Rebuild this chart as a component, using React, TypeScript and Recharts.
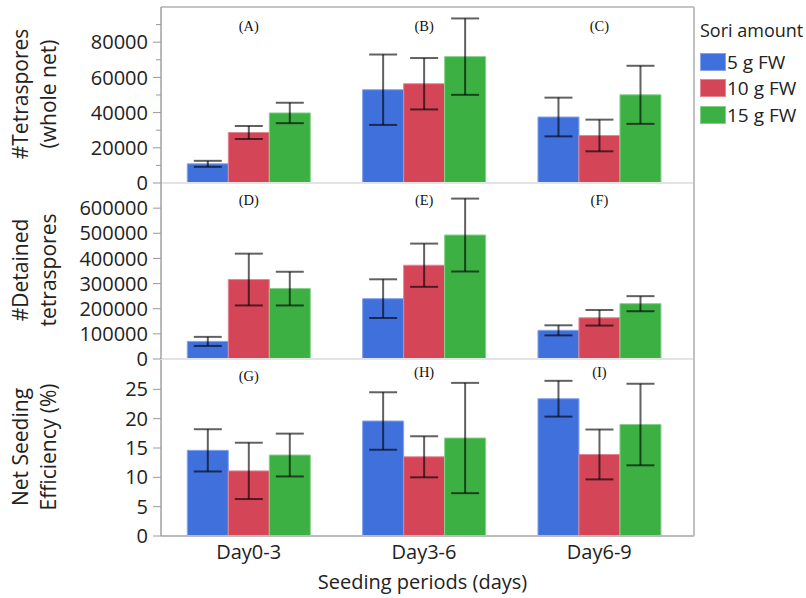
import React from 'react';
import { BarChart, Bar, XAxis, YAxis, ErrorBar, ReferenceLine, Legend, LabelList } from 'recharts';

const periods = ['Day0-3', 'Day3-6', 'Day6-9'];
const seriesNames = ['5 g FW', '10 g FW', '15 g FW'];
const seriesColors = ['#4070dc', '#d44557', '#3cb043'];
const seriesEdges = ['#86a2ea', '#e38692', '#86cf8b'];

// Panel 1: #Tetraspores (whole net)
const tetraMean5 = [10900, 53000, 37500];
const tetraMean10 = [28700, 56400, 27000];
const tetraMean15 = [39800, 71800, 50100];
const tetraErr5 = [1700, 20000, 11000];
const tetraErr10 = [3700, 14600, 9000];
const tetraErr15 = [5800, 21700, 16500];
const tetraTicks = [0, 10000, 20000, 30000, 40000, 50000, 60000, 70000, 80000, 90000];
const tetraLetters = ['(A)', '(B)', '(C)'];

// Panel 2: #Detained tetraspores
const detMean5 = [70000, 240000, 114000];
const detMean10 = [316000, 373000, 164000];
const detMean15 = [280000, 493000, 220000];
const detErr5 = [18000, 77000, 20000];
const detErr10 = [103000, 86000, 31000];
const detErr15 = [67000, 145000, 30000];
const detTicks = [0, 100000, 200000, 300000, 400000, 500000, 600000];
const detLetters = ['(D)', '(E)', '(F)'];

// Panel 3: Net Seeding Efficiency (%)
const effMean5 = [14.6, 19.6, 23.4];
const effMean10 = [11.1, 13.5, 13.9];
const effMean15 = [13.8, 16.7, 19.0];
const effErr5 = [3.6, 4.9, 3.05];
const effErr10 = [4.8, 3.5, 4.25];
const effErr15 = [3.65, 9.4, 6.95];
const effTicks = [0, 5, 10, 15, 20, 25];
const effLetters = ['(G)', '(H)', '(I)'];

const FONT = '"Open Sans", "Noto Sans", sans-serif';
const TEXT = '#222';
const W = 806;
const PLOT_LEFT = 161;
const PLOT_RIGHT = 694;

function buildRows(means: number[][], errs: number[][], letters: string[]) {
  return periods.map((p, i) => ({
    period: p,
    letter: letters[i],
    m0: means[0][i],
    m1: means[1][i],
    m2: means[2][i],
    e0: errs[0][i],
    e1: errs[1][i],
    e2: errs[2][i],
  }));
}

const tetraRows = buildRows([tetraMean5, tetraMean10, tetraMean15], [tetraErr5, tetraErr10, tetraErr15], tetraLetters);
const detRows = buildRows([detMean5, detMean10, detMean15], [detErr5, detErr10, detErr15], detLetters);
const effRows = buildRows([effMean5, effMean10, effMean15], [effErr5, effErr10, effErr15], effLetters);

const yTitle = (lines: string[]) => (props: any) => {
  const vb = props.viewBox || {};
  const cy = vb.y + vb.height / 2 - 1;
  const xs = [27.5, 56];
  return (
    <g>
      {lines.map((t, i) => (
        <text
          key={i}
          x={xs[i]}
          y={cy}
          transform={`rotate(-90 ${xs[i]} ${cy})`}
          textAnchor="middle"
          fontSize={21}
          fontFamily={FONT}
          fill={TEXT}
        >
          {t}
        </text>
      ))}
    </g>
  );
};

const xTitle = (props: any) => {
  const vb = props.viewBox || {};
  const cx = vb.x + vb.width / 2 - 5;
  return (
    <text x={cx} y={vb.y + 53} textAnchor="middle" fontSize={20} fontFamily={FONT} fill={TEXT}>
      Seeding periods (days)
    </text>
  );
};

const MinorTick = (props: any) => {
  const { x, y, payload } = props;
  const v = payload.value;
  const major = v % 20000 === 0;
  return (
    <g>
      <line x1={major ? x + 5 : x + 8} x2={x + 13} y1={y} y2={y} stroke="#999" strokeWidth={1} />
      {major && (
        <text x={x} y={y} dy="0.355em" textAnchor="end" fontSize={20} fontFamily={FONT} fill={TEXT}>
          {v}
        </text>
      )}
    </g>
  );
};

const letterRenderer = (panelTop: number, dys: number[]) => (props: any) => {
  const { x, width, value, index } = props;
  return (
    <text
      x={x + width / 2}
      y={panelTop + dys[index]}
      textAnchor="middle"
      fontSize={14.5}
      fontFamily='"Liberation Serif", "Times New Roman", serif'
      fill="#111"
    >
      {value}
    </text>
  );
};

const LegendContent = (props: any) => {
  const payload = [...(props.payload || [])].sort(
    (a: any, b: any) => seriesNames.indexOf(a.value) - seriesNames.indexOf(b.value)
  );
  return (
    <div style={{ fontFamily: FONT, color: TEXT }}>
      <div style={{ fontSize: 18, lineHeight: '24px', height: 24, marginBottom: 7, whiteSpace: 'nowrap' }}>Sori amount</div>
      {payload.map((p: any, i: number) => (
        <div key={i} style={{ display: 'flex', alignItems: 'center', height: 26.3 }}>
          <span
            style={{
              display: 'inline-block',
              width: 26,
              height: 18,
              background: p.color,
              boxSizing: 'border-box',
              border: `1px solid ${seriesEdges[seriesNames.indexOf(p.value)]}`,
            }}
          />
          <span style={{ fontSize: 19, marginLeft: 1, whiteSpace: 'nowrap', lineHeight: '20px' }}>{p.value}</span>
        </div>
      ))}
    </div>
  );
};

function renderBars(panelTop: number, dys: number[]) {
  return [0, 1, 2].map((k) => (
    <Bar
      key={k}
      dataKey={`m${k}`}
      name={seriesNames[k]}
      fill={seriesColors[k]}
      stroke={seriesEdges[k]}
      strokeWidth={1}
      isAnimationActive={false}
    >
      <ErrorBar
        dataKey={`e${k}`}
        width={14}
        stroke="#000"
        strokeOpacity={0.62}
        strokeWidth={2}
        direction="y"
        isAnimationActive={false}
      />
      {k === 1 && <LabelList dataKey="letter" content={letterRenderer(panelTop, dys)} />}
    </Bar>
  ));
}

const margin = (top: number, bottom: number) => ({ top, bottom, left: 0, right: W - PLOT_RIGHT });
const xPad = { left: 0, right: 7 };

export default function App() {
  return (
    <div style={{ position: 'absolute', left: 0, top: 0, width: W, height: 598, background: '#fff', overflow: 'hidden' }}>
      {/* Panel 1 */}
      <div style={{ position: 'absolute', left: 0, top: 0 }}>
        <BarChart width={W} height={195} data={tetraRows} margin={margin(7, 12)} barCategoryGap="15%" barGap={0}>
          <XAxis dataKey="period" hide padding={xPad} />
          <YAxis
            width={PLOT_LEFT}
            domain={[0, 100000]}
            ticks={tetraTicks}
            interval={0}
            tickSize={8}
            tickMargin={5}
            tickLine={false}
            axisLine={{ stroke: '#a0a0a0', strokeWidth: 1.5 }}
            tick={MinorTick}
            label={{ content: yTitle(['#Tetraspores', '(whole net)']) }}
          />
          <ReferenceLine y={100000} stroke="#b0b0b0" strokeWidth={1.5} />
          {renderBars(7, [24, 24, 24])}
          <ReferenceLine y={0} stroke="#e3e3e3" strokeWidth={2} />
          <Legend
            layout="vertical"
            align="center"
            verticalAlign="middle"
            content={LegendContent}
            wrapperStyle={{ left: 700, top: 18, width: 106 }}
          />
        </BarChart>
      </div>
      {/* Panel 2 */}
      <div style={{ position: 'absolute', left: 0, top: 183 }}>
        <BarChart width={W} height={188} data={detRows} margin={margin(0, 12)} barCategoryGap="15%" barGap={0}>
          <XAxis dataKey="period" hide padding={xPad} />
          <YAxis
            width={PLOT_LEFT}
            domain={[0, 700000]}
            ticks={detTicks}
            interval={0}
            tickSize={8}
            tickMargin={5}
            tickLine={{ stroke: '#999' }}
            axisLine={{ stroke: '#a0a0a0', strokeWidth: 1.5 }}
            tick={{ fontSize: 20, fontFamily: FONT, fill: TEXT }}
            label={{ content: yTitle(['#Detained', 'tetraspores']) }}
          />
          {renderBars(0, [22, 22, 22])}
          <ReferenceLine y={0} stroke="#e3e3e3" strokeWidth={2} />
        </BarChart>
      </div>
      {/* Panel 3 */}
      <div style={{ position: 'absolute', left: 0, top: 360 }}>
        <BarChart width={W} height={238} data={effRows} margin={margin(0, 0)} barCategoryGap="15%" barGap={0}>
          <XAxis
            dataKey="period"
            padding={xPad}
            height={62}
            tickLine={false}
            tickSize={0}
            tickMargin={9}
            axisLine={{ stroke: '#bbb', strokeWidth: 2 }}
            tick={{ fontSize: 20, fontFamily: FONT, fill: TEXT }}
            interval={0}
            label={{ content: xTitle }}
          />
          <YAxis
            width={PLOT_LEFT}
            domain={[0, 30]}
            ticks={effTicks}
            interval={0}
            tickSize={8}
            tickMargin={5}
            tickLine={{ stroke: '#999' }}
            axisLine={{ stroke: '#a0a0a0', strokeWidth: 1.5 }}
            tick={{ fontSize: 20, fontFamily: FONT, fill: TEXT }}
            label={{ content: yTitle(['Net Seeding', 'Efficiency (%)']) }}
          />
          {renderBars(0, [21, 16.5, 16.5])}
        </BarChart>
      </div>
      {/* right frame border */}
      <div style={{ position: 'absolute', left: PLOT_RIGHT - 1, top: 7, width: 2, height: 529, background: '#c0c0c0' }} />
    </div>
  );
}
